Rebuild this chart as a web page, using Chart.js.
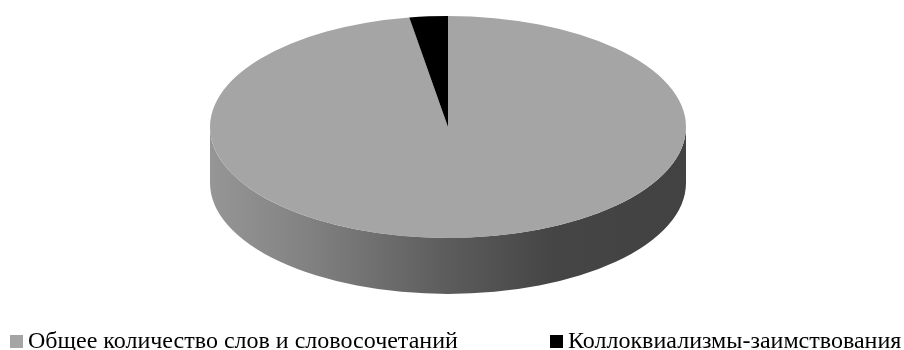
<!DOCTYPE html>
<html lang="ru">
<head>
<meta charset="utf-8">
<title>Коллоквиализмы-заимствования</title>
<script src="https://cdn.jsdelivr.net/npm/chart.js@4.4.1/dist/chart.umd.min.js"></script>
<style>
    html, body { margin: 0; padding: 0; background: #fff; }
    .wrap { position: relative; width: 904px; height: 350px; overflow: hidden; }
    .wrap canvas { position: absolute; left: 0; top: 0; }
    .legend-item {
        position: absolute;
        top: 328px;
        font-family: "Liberation Serif", "DejaVu Serif", serif;
        font-size: 24px;
        line-height: 24px;
        color: #000;
        white-space: nowrap;
    }
    .legend-item i {
        display: inline-block;
        width: 13px;
        height: 13px;
        margin-right: 5px;
        vertical-align: 0px;
    }
</style>
</head>
<body>
<div class="wrap">
    <canvas id="pieChart" width="904" height="350"></canvas>
    <div id="pieLegend"></div>
</div>
<script>
const categories = ['Общее количество слов и словосочетаний', 'Коллоквиализмы-заимствования'];
const shares = [97.4, 2.6];
const sliceColors = ['#a5a5a5', '#000000'];

// where the flattened pie sits on the page
const PIE = { cx: 448, cy: 127, rx: 238, ry: 111, depth: 56 };
const legendLeft = [10, 550];

// side wall of the disc, drawn from each arc's own angles (front half only)
const pie3d = {
    id: 'pie3d',
    beforeDatasetsDraw(chart) {
        const ctx = chart.ctx;
        const arcs = chart.getDatasetMeta(0).data;
        const grad = ctx.createLinearGradient(PIE.cx - PIE.rx, 0, PIE.cx + PIE.rx, 0);
        grad.addColorStop(0, '#969696');
        grad.addColorStop(0.2, '#828282');
        grad.addColorStop(0.5, '#5c5c5c');
        grad.addColorStop(0.72, '#454545');
        grad.addColorStop(1, '#424242');

        ctx.save();
        arcs.forEach(arc => {
            const norm = a => ((a % (2 * Math.PI)) + 2 * Math.PI) % (2 * Math.PI);
            let a0 = norm(arc.startAngle);
            let a1 = a0 + (arc.endAngle - arc.startAngle);
            // visible wall is between 0 and PI (lower half); check both wraps
            [0, 2 * Math.PI].forEach(shift => {
                const s = Math.max(a0, shift);
                const e = Math.min(a1, shift + Math.PI);
                if (e <= s) return;
                ctx.beginPath();
                ctx.ellipse(PIE.cx, PIE.cy, PIE.rx, PIE.ry, 0, s, e, false);
                ctx.ellipse(PIE.cx, PIE.cy + PIE.depth, PIE.rx, PIE.ry, 0, e, s, true);
                ctx.closePath();
                ctx.fillStyle = grad;
                ctx.fill();
            });
        });
        ctx.restore();

        // squash the circular pie into the top face
        const first = arcs[0];
        const r0 = first.outerRadius;
        ctx.save();
        ctx.translate(PIE.cx, PIE.cy);
        ctx.scale(PIE.rx / r0, PIE.ry / r0);
        ctx.translate(-first.x, -first.y);
    },
    afterDatasetsDraw(chart) {
        chart.ctx.restore();
    }
};

const chart = new Chart(document.getElementById('pieChart'), {
    type: 'pie',
    data: {
        labels: categories,
        datasets: [{
            data: shares,
            backgroundColor: sliceColors,
            borderWidth: 0
        }]
    },
    options: {
        responsive: false,
        animation: false,
        events: [],
        plugins: {
            legend: { display: false },
            tooltip: { enabled: false }
        }
    },
    plugins: [pie3d]
});

// legend as plain text under the chart
const legendBox = document.getElementById('pieLegend');
categories.forEach((name, i) => {
    const item = document.createElement('div');
    item.className = 'legend-item';
    item.style.left = legendLeft[i] + 'px';
    item.innerHTML = `<i style="background:${sliceColors[i]}"></i>${name}`;
    legendBox.appendChild(item);
});
</script>
</body>
</html>
